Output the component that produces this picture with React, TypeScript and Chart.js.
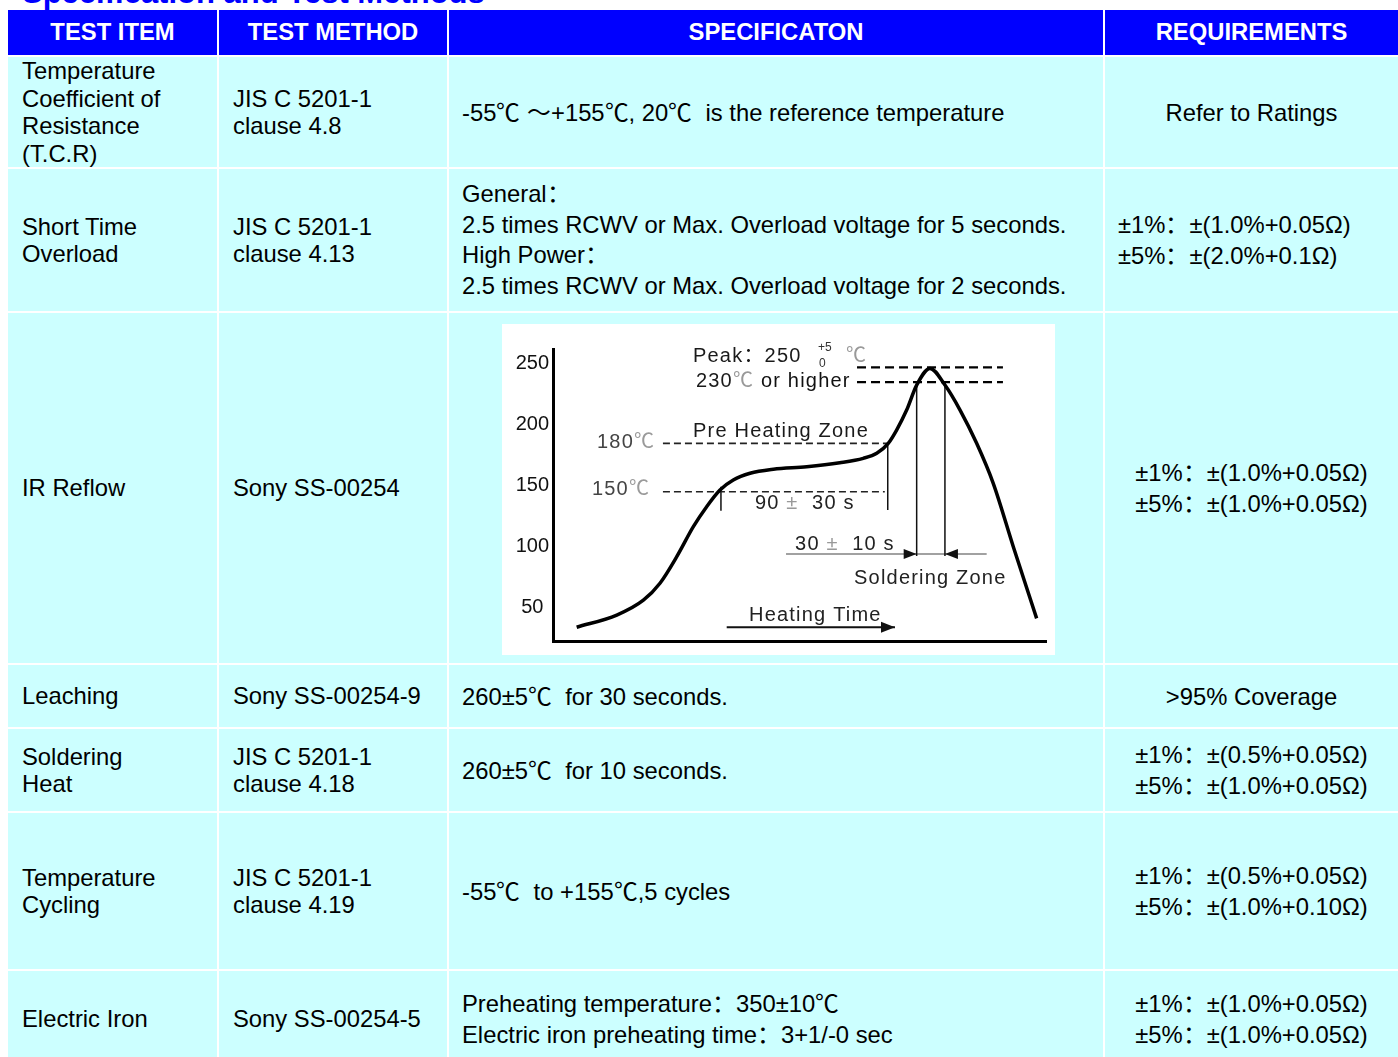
import React, { useEffect, useRef } from "react";
import { Chart, registerables } from "chart.js";

Chart.register(...registerables);

// ---------- Table text ----------
const TITLE = "Specification and Test Methods";
const HEADERS = ["TEST ITEM", "TEST METHOD", "SPECIFICATON", "REQUIREMENTS"];
const ITEMS = [
  ["Temperature", "Coefficient of", "Resistance", "(T.C.R)"],
  ["Short Time", "Overload"],
  ["IR Reflow"],
  ["Leaching"],
  ["Soldering", "Heat"],
  ["Temperature", "Cycling"],
  ["Electric Iron"],
];
const METHODS = [
  ["JIS C 5201-1", "clause 4.8"],
  ["JIS C 5201-1", "clause 4.13"],
  ["Sony SS-00254"],
  ["Sony SS-00254-9"],
  ["JIS C 5201-1", "clause 4.18"],
  ["JIS C 5201-1", "clause 4.19"],
  ["Sony SS-00254-5"],
];
const SPECS = [
  ["-55℃ ～+155℃, 20℃  is the reference temperature"],
  [
    "General：",
    "2.5 times RCWV or Max. Overload voltage for 5 seconds.",
    "High Power：",
    "2.5 times RCWV or Max. Overload voltage for 2 seconds.",
  ],
  [],
  ["260±5℃  for 30 seconds."],
  ["260±5℃  for 10 seconds."],
  ["-55℃  to +155℃,5 cycles"],
  ["Preheating temperature：350±10℃", "Electric iron preheating time：3+1/-0 sec"],
];
const REQS = [
  ["Refer to Ratings"],
  ["±1%：±(1.0%+0.05Ω)", "±5%：±(2.0%+0.1Ω)"],
  ["±1%：±(1.0%+0.05Ω)", "±5%：±(1.0%+0.05Ω)"],
  [">95% Coverage"],
  ["±1%：±(0.5%+0.05Ω)", "±5%：±(1.0%+0.05Ω)"],
  ["±1%：±(0.5%+0.05Ω)", "±5%：±(1.0%+0.10Ω)"],
  ["±1%：±(1.0%+0.05Ω)", "±5%：±(1.0%+0.05Ω)"],
];

// ---------- Reflow chart data (time in s, temperature in ℃) ----------
const TICK_VALUES = [50, 100, 150, 200, 250];
const PROFILE_TIME = [14.4, 38.8, 55.0, 65.1, 75.3, 85.4, 93.5, 101.6, 109.7, 119.9, 134.1, 154.4, 174.5, 188.8, 197.0, 204.0, 209.1, 215.2, 221.3, 229.4, 238.5, 247.7, 257.8, 267.9, 280.1, 294.3];
const PROFILE_TEMP = [33.8, 43.8, 56.0, 69.9, 91.7, 116.3, 132.7, 146.4, 154.6, 160.1, 163.4, 165.5, 168.8, 172.4, 176.5, 184.7, 195.6, 212.0, 232.5, 246.2, 232.5, 212.0, 184.7, 151.9, 99.9, 41.1];

// dashed reference levels: 180℃, 150℃, peak, 230℃
const DASH_TEMP = [184.7, 145.0, 247.0, 235.0];
const DASH_FROM = [66.9, 66.9, 185.0, 185.0];
const DASH_TO = [203.7, 201.9, 273.8, 273.8];

// vertical marker lines
const VLINE_TIME = [203.7, 102.2, 221.3, 238.5];
const VLINE_TOP = [185.2, 149.1, 235.0, 235.0];
const VLINE_BOTTOM = [130.0, 129.4, 92.2, 92.2];

// horizontal guide lines (soldering span, heating time arrow)
const HLINE_TEMP = [93.9, 33.8];
const HLINE_FROM = [141.8, 105.7];
const HLINE_TO = [263.9, 208.1];

// arrow heads: tip position and direction (+1 right, -1 left)
const ARROW_TIME = [221.3, 238.5, 208.1];
const ARROW_TEMP = [93.9, 93.9, 33.8];
const ARROW_DIR = [1, -1, 1];

// labels inside chart
const LABEL_RUNS = [
  ["Peak：250"],
  ["+5"],
  ["0"],
  ["℃"],
  ["230", "℃", " or higher"],
  ["Pre Heating Zone"],
  ["180", "℃"],
  ["150", "℃"],
  ["90 ", "±", "  30 s"],
  ["30 ", "±", "  10 s"],
  ["Soldering Zone"],
  ["Heating Time"],
];
const LABEL_TIME = [85.2, 161.3, 161.9, 178.3, 87.0, 85.2, 26.8, 23.7, 122.9, 147.3, 183.2, 119.3];
const LABEL_TEMP = [256.3, 262.9, 249.8, 256.3, 235.8, 194.8, 185.8, 147.2, 135.7, 102.1, 74.2, 43.8];

// ---------- styles ----------
const FONT = "'CJKSym', 'Liberation Sans', Arial, 'Noto Sans CJK SC', sans-serif";
const CHART_FONT = "'Liberation Sans', Arial, 'Noto Sans CJK SC', sans-serif";
const FONT_CSS = `@font-face { font-family: 'CJKSym'; src: local('Noto Sans CJK SC'), local('Noto Sans CJK SC Regular'), local('NotoSansCJKsc-Regular'), local('NotoSansCJKSC-Regular'); unicode-range: U+2103, U+FF1A, U+FF5E; }`;
const LABEL_SIZE = [20, 12, 12, 20, 20, 20, 20, 20, 20, 20, 20, 20];
const LABEL_COLORS = [
  ["#1a1a1a"],
  ["#333"],
  ["#333"],
  ["#999"],
  ["#1a1a1a", "#999", "#111"],
  ["#1a1a1a"],
  ["#444", "#9a9a9a"],
  ["#444", "#9a9a9a"],
  ["#222", "#999", "#222"],
  ["#222", "#999", "#222"],
  ["#222"],
  ["#222"],
];
const DASH_STYLE = [
  { w: 1.6, dash: [7, 4], c: "#222" },
  { w: 1.6, dash: [7, 4], c: "#222" },
  { w: 2.2, dash: [9, 5], c: "#000" },
  { w: 2.2, dash: [9, 5], c: "#000" },
];
const ARROW_LEN = [13, 13, 14];
const ARROW_HALF = [5, 5, 5.5];

const COL_X = [8, 219, 449, 1105];
const COL_W = [209, 228, 654, 293];
const HEADER_Y = 10;
const HEADER_H = 45;
const ROW_Y = [57, 169, 313, 665, 729, 813, 971];
const ROW_H = [110, 142, 350, 62, 82, 156, 96];
const BLUE = "#0000FF";
const CYAN = "#CCFFFF";

const overlayPlugin = {
  id: "overlay",
  afterDraw(chart: any) {
    const { ctx } = chart;
    const xs = chart.scales.x;
    const ys = chart.scales.y;
    ctx.save();
    // arrow heads
    ARROW_TIME.forEach((t, i) => {
      const px = xs.getPixelForValue(t);
      const py = ys.getPixelForValue(ARROW_TEMP[i]);
      const d = ARROW_DIR[i];
      ctx.beginPath();
      ctx.moveTo(px, py);
      ctx.lineTo(px - d * ARROW_LEN[i], py - ARROW_HALF[i]);
      ctx.lineTo(px - d * ARROW_LEN[i], py + ARROW_HALF[i]);
      ctx.closePath();
      ctx.fillStyle = "#111";
      ctx.fill();
    });
    // labels
    ctx.textBaseline = "middle";
    ctx.textAlign = "left";
    LABEL_RUNS.forEach((runs, i) => {
      let px = xs.getPixelForValue(LABEL_TIME[i]);
      const py = ys.getPixelForValue(LABEL_TEMP[i]);
      ctx.font = `${LABEL_SIZE[i]}px ${CHART_FONT}`;
      (ctx as any).letterSpacing = LABEL_SIZE[i] > 14 ? "1.2px" : "0px";
      runs.forEach((t, j) => {
        ctx.fillStyle = LABEL_COLORS[i][j];
        ctx.fillText(t, px, py);
        px += ctx.measureText(t).width;
      });
    });
    ctx.restore();
  },
};

function ReflowChart() {
  const ref = useRef<HTMLCanvasElement>(null);
  useEffect(() => {
    const datasets: any[] = [];
    datasets.push({
      data: PROFILE_TIME.map((t, i) => ({ x: t, y: PROFILE_TEMP[i] })),
      borderColor: "#000",
      borderWidth: 3.5,
      pointRadius: 0,
      cubicInterpolationMode: "monotone",
      fill: false,
    });
    DASH_TEMP.forEach((v, i) => {
      datasets.push({
        data: [
          { x: DASH_FROM[i], y: v },
          { x: DASH_TO[i], y: v },
        ],
        borderColor: DASH_STYLE[i].c,
        borderWidth: DASH_STYLE[i].w,
        borderDash: DASH_STYLE[i].dash,
        pointRadius: 0,
        fill: false,
      });
    });
    VLINE_TIME.forEach((t, i) => {
      datasets.push({
        data: [
          { x: t, y: VLINE_TOP[i] },
          { x: t, y: VLINE_BOTTOM[i] },
        ],
        borderColor: "#111",
        borderWidth: 1.5,
        pointRadius: 0,
        fill: false,
      });
    });
    HLINE_TEMP.forEach((v, i) => {
      datasets.push({
        data: [
          { x: HLINE_FROM[i], y: v },
          { x: HLINE_TO[i], y: v },
        ],
        borderColor: i === 0 ? "#444" : "#111",
        borderWidth: i === 0 ? 1.2 : 2,
        pointRadius: 0,
        fill: false,
      });
    });

    const chart = new Chart(ref.current as HTMLCanvasElement, {
      type: "line",
      data: { datasets },
      options: {
        animation: false,
        responsive: false,
        maintainAspectRatio: false,
        events: [],
        layout: { padding: { left: 0, top: 25, right: 9, bottom: 14 } },
        plugins: { legend: { display: false }, tooltip: { enabled: false } },
        scales: {
          x: {
            type: "linear",
            min: 0,
            max: 300,
            grid: { display: false, drawTicks: false },
            ticks: { display: false },
            border: { display: true, color: "#000", width: 3 },
            afterFit: (s: any) => {
              s.height = 0;
              s.paddingLeft = 0;
              s.paddingRight = 0;
            },
          },
          y: {
            type: "linear",
            min: 22.5,
            max: 262.1,
            grid: { display: false, drawTicks: false },
            border: { display: true, color: "#000", width: 3 },
            ticks: {
              padding: 4,
              crossAlign: "center",
              color: "#111",
              font: { family: CHART_FONT, size: 20 },
            },
            afterBuildTicks: (s: any) => {
              s.ticks = TICK_VALUES.map((v) => ({ value: v }));
            },
            afterFit: (s: any) => {
              s.width = 51;
              s.paddingTop = 0;
              s.paddingBottom = 0;
            },
          },
        },
      } as any,
      plugins: [overlayPlugin],
    });
    return () => chart.destroy();
  }, []);
  return <canvas ref={ref} width={553} height={331} style={{ display: "block" }} />;
}

type CellProps = {
  x: number;
  y: number;
  w: number;
  h: number;
  bg: string;
  lines: string[];
  lh: number;
  align: "left" | "center";
  pad?: number;
  padBottom?: number;
  color?: string;
  bold?: boolean;
};

function Cell({ x, y, w, h, bg, lines, lh, align, pad = 0, padBottom = 0, color = "#000", bold = false }: CellProps) {
  return (
    <div
      style={{
        position: "absolute",
        left: x,
        top: y,
        width: w,
        height: h,
        background: bg,
        display: "flex",
        flexDirection: "column",
        justifyContent: "center",
        alignItems: align === "center" ? "center" : "flex-start",
        paddingLeft: pad,
        paddingBottom: padBottom,
        boxSizing: "border-box",
        color,
        fontFamily: FONT,
        fontSize: 23.8,
        fontWeight: bold ? "bold" : "normal",
        overflow: "hidden",
      }}
    >
      {lines.map((l, i) => (
        <div key={i} style={{ lineHeight: `${lh}px`, whiteSpace: "pre" }}>
          {l}
        </div>
      ))}
    </div>
  );
}

export default function App() {
  return (
    <div
      style={{
        position: "absolute",
        left: 0,
        top: 0,
        width: 1398,
        height: 1057,
        overflow: "hidden",
        background: "#fff",
      }}
    >
      <style>{FONT_CSS}</style>
      <div
        style={{
          position: "absolute",
          left: 22,
          top: -23,
          fontFamily: FONT,
          fontSize: 31,
          lineHeight: "31px",
          fontWeight: "bold",
          color: BLUE,
          whiteSpace: "pre",
        }}
      >
        {TITLE}
      </div>
      {HEADERS.map((h, c) => (
        <Cell
          key={"h" + c}
          x={COL_X[c]}
          y={HEADER_Y}
          w={COL_W[c]}
          h={HEADER_H}
          bg={BLUE}
          lines={[h]}
          lh={28}
          align="center"
          color="#fff"
          padBottom={2}
          bold
        />
      ))}
      {ROW_Y.map((ry, r) => (
        <React.Fragment key={"r" + r}>
          <Cell x={COL_X[0]} y={ry} w={COL_W[0]} h={ROW_H[r]} bg={CYAN} lines={ITEMS[r]} lh={27.5} align="left" pad={14} />
          <Cell x={COL_X[1]} y={ry} w={COL_W[1]} h={ROW_H[r]} bg={CYAN} lines={METHODS[r]} lh={27.5} align="left" pad={14} />
          <Cell x={COL_X[2]} y={ry} w={COL_W[2]} h={ROW_H[r]} bg={CYAN} lines={SPECS[r]} lh={r === 1 ? 30.5 : 31} align="left" pad={13} />
          <Cell
            x={COL_X[3]}
            y={ry}
            w={COL_W[3]}
            h={ROW_H[r]}
            bg={CYAN}
            lines={REQS[r]}
            lh={31}
            align={r === 1 ? "left" : "center"}
            pad={r === 1 ? 13 : 0}
          />
        </React.Fragment>
      ))}
      <div style={{ position: "absolute", left: 502, top: 324, width: 553, height: 331, background: "#fff" }}>
        <ReflowChart />
      </div>
    </div>
  );
}
